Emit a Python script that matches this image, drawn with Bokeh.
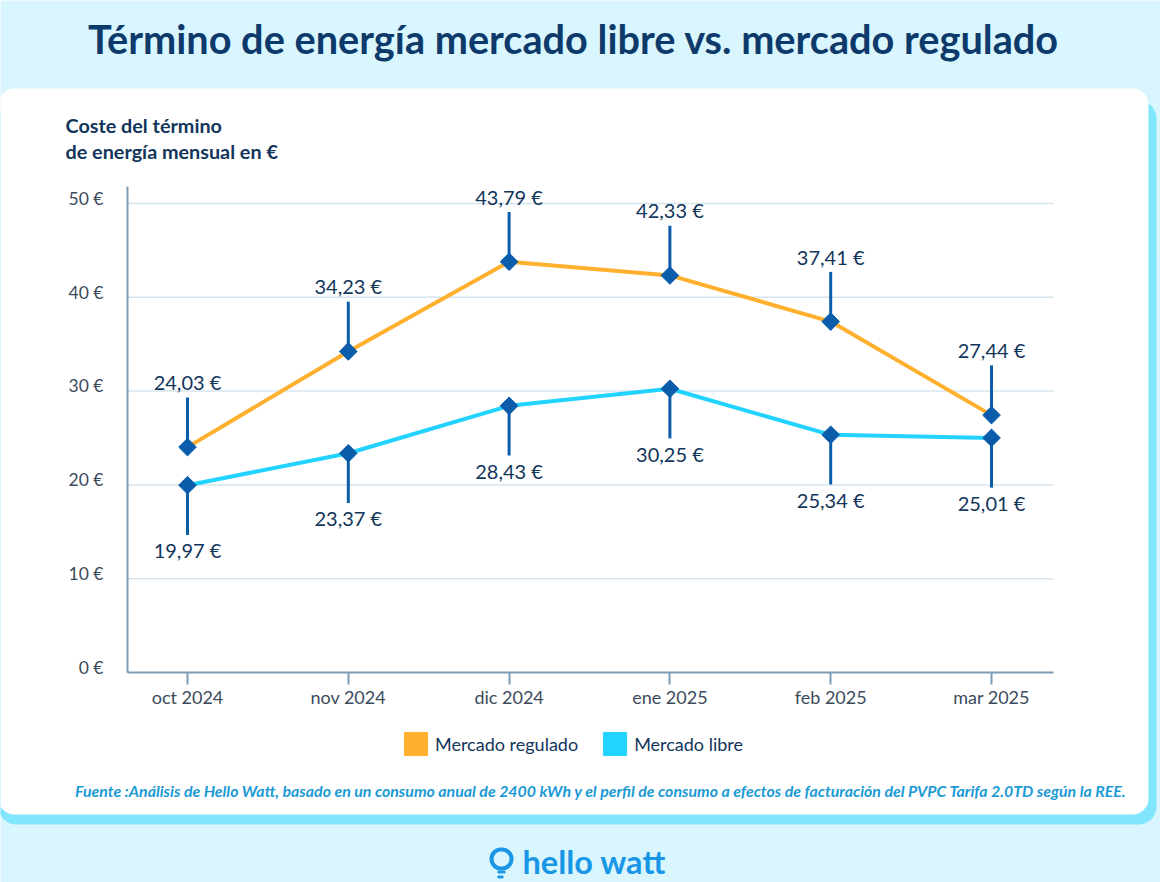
import math
from bokeh.plotting import figure
from bokeh.models import Label, BoxAnnotation, Legend, LegendItem, FixedTicker, Range1d
from bokeh.core.properties import value
from bokeh.embed import file_html
from bokeh.resources import INLINE

months = ["oct 2024", "nov 2024", "dic 2024", "ene 2025", "feb 2025", "mar 2025"]
regulado = [24.03, 34.23, 43.79, 42.33, 37.41, 27.44]
libre = [19.97, 23.37, 28.43, 30.25, 25.34, 25.01]
y_ticks = [0, 10, 20, 30, 40, 50]
title = "Término de energía mercado libre vs. mercado regulado"
subtitle = ["Coste del término", "de energía mensual en €"]
source = "Fuente :Análisis de Hello Watt, basado en un consumo anual de 2400 kWh y el perfil de consumo a efectos de facturación del PVPC Tarifa 2.0TD según la REE."

W, H = 1160, 882
FONT = "Lato"
NAVY = "#12355b"
BG = "#d9f6fe"
SHADOW = "#80e6fd"
ORANGE = "#ffb02e"
CYAN = "#22d3ff"
MARK = "#0b5cab"
AXIS = "#7c9cb6"
GRID = "#d6e4ee"
BLUE = "#1a96e6"

X = list(range(len(months)))

# The plot area fills the whole canvas, so that the card and the texts around
# the chart are not clipped; the scales put x=0 at px 187 and y=0 at px 672.
X_PX, Y_PX = 160.8, 9.38
x_start, x_end = -187 / X_PX, (W - 187) / X_PX
y_start, y_end = -(H - 672) / Y_PX, 672 / Y_PX
AX_LEFT, AX_RIGHT = (127 - 187) / X_PX, (1053 - 187) / X_PX
AX_TOP = (672 - 186) / Y_PX

p = figure(width=W, height=H, output_backend="svg", toolbar_location=None,
           x_range=Range1d(x_start, x_end), y_range=Range1d(y_start, y_end),
           min_border=0, border_fill_color=BG, background_fill_color=BG, outline_line_color=None)


def box(left, right, top, bottom, fill, radius=0, line=None, lw=0, level="underlay"):
    b = BoxAnnotation(left=left, right=right, top=top, bottom=bottom,
                      left_units="canvas", right_units="canvas", top_units="canvas", bottom_units="canvas",
                      fill_color=fill, fill_alpha=1 if fill else 0, line_color=line, line_alpha=1, line_width=lw,
                      border_radius=radius, level=level, editable=False)
    p.add_layout(b)


def text(x, y, t, size, color, style="normal", align="left", baseline="middle"):
    p.add_layout(Label(x=x, y=y, x_units="canvas", y_units="canvas", text=t,
                       text_font=FONT, text_font_size=f"{size}px", text_font_style=style,
                       text_color=color, text_align=align, text_baseline=baseline))


box(-2, 1156, 100, 824, SHADOW, 18)
box(-2, 1148, 88, 814, "white", 16)

# axes
p.xaxis.fixed_location = 0
p.yaxis.fixed_location = AX_LEFT
p.xaxis.bounds = (AX_LEFT, AX_RIGHT)
p.yaxis.bounds = (0, AX_TOP)
p.xaxis.ticker = FixedTicker(ticks=X)
p.xaxis.major_label_overrides = dict(zip(X, months))
p.yaxis.ticker = FixedTicker(ticks=y_ticks)
p.yaxis.major_label_overrides = {v: f"{v} €\n " for v in y_ticks}
for ax in (p.xaxis, p.yaxis):
    ax.axis_line_color = AXIS
    ax.axis_line_width = 2
    ax.major_label_text_font = FONT
    ax.major_label_text_color = "#3c4b5c"
    ax.minor_tick_line_color = None
p.xaxis.major_label_text_font_size = "18px"
p.yaxis.major_label_text_font_size = "17.5px"
p.yaxis.major_label_text_line_height = 0.5
p.xaxis.major_tick_line_color = AXIS
p.xaxis.major_tick_line_width = 2
p.xaxis.major_tick_in = 0
p.xaxis.major_tick_out = 12
p.xaxis.major_label_standoff = 1
p.yaxis.major_tick_line_color = None
p.yaxis.major_label_standoff = 18
p.grid.visible = False
grid_y = [v for v in y_ticks if v > 0]
p.segment([AX_LEFT] * len(grid_y), grid_y, [AX_RIGHT] * len(grid_y), grid_y, line_color=GRID, line_width=1.5)

# series
STEM = 5.3  # length of the leader lines, in euros
p.segment(X, regulado, X, [v + STEM for v in regulado], line_color=MARK, line_width=3)
p.segment(X, libre, X, [v - STEM for v in libre], line_color=MARK, line_width=3)
p.line(X, regulado, line_color=ORANGE, line_width=4)
p.line(X, libre, line_color=CYAN, line_width=4)
p.scatter(X, regulado, marker="square", angle=math.pi / 4, size=12.5, color=MARK)
p.scatter(X, libre, marker="square", angle=math.pi / 4, size=12.5, color=MARK)


def fmt(v):
    return f"{v:.2f} €".replace(".", ",")


p.text(X, regulado, text=[fmt(v) for v in regulado], y_offset=-65, text_align="center", text_baseline="middle",
       text_font=value(FONT), text_font_size="20px", text_color=NAVY)
p.text(X, libre, text=[fmt(v) for v in libre], y_offset=65, text_align="center", text_baseline="middle",
       text_font=value(FONT), text_font_size="20px", text_color=NAVY)

# legend
nan = float("nan")
s1 = p.quad(left=[nan], right=[nan], top=[nan], bottom=[nan], fill_color=ORANGE, line_color=ORANGE)
s2 = p.quad(left=[nan], right=[nan], top=[nan], bottom=[nan], fill_color=CYAN, line_color=CYAN)
leg = Legend(items=[LegendItem(label="Mercado regulado", renderers=[s1]),
                    LegendItem(label="Mercado libre", renderers=[s2])],
             orientation="horizontal", location=(401, 124), background_fill_alpha=0,
             border_line_color=None, glyph_width=29, glyph_height=29, label_text_font=FONT,
             label_text_font_size="18px", label_text_color=NAVY, spacing=22, padding=0, margin=0,
             label_standoff=5)
p.add_layout(leg)

# texts
text(573, 38, title, 39.7, "#0e3a6b", "bold", "center")
text(65, 124, subtitle[0], 19.8, NAVY, "bold")
text(65, 150, subtitle[1], 19.8, NAVY, "bold")
text(600.5, 790, source, 15.9, "#1b9ad6", "bold italic", "center")

# logo
text(522, 861, "hello watt", 32.5, BLUE, "bold")
box(491, 511, 849, 868, None, 10, BLUE, 4, "annotation")
box(497, 505, 870, 873, BLUE, 1, level="annotation")
box(497, 503, 875, 878, BLUE, 1, level="annotation")

open("out.html", "w").write(file_html(p, INLINE))
